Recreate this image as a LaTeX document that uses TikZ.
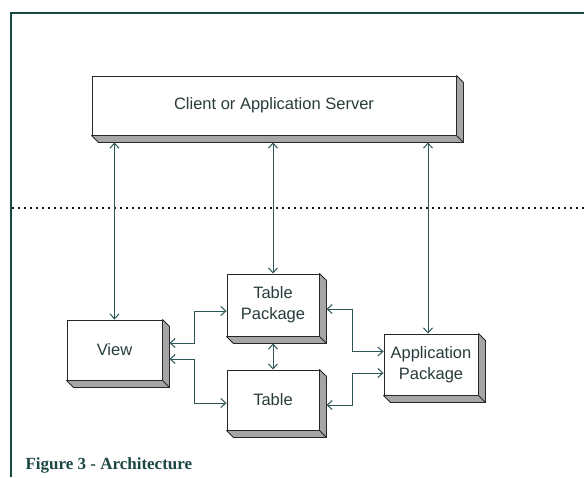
\documentclass[tikz,border=0pt]{standalone}
\usepackage{fontspec}
\setmainfont{Liberation Sans}
\newfontfamily\capfont{Liberation Serif}
\usetikzlibrary{arrows.meta, calc, positioning}
\definecolor{framecol}{RGB}{28,72,68}
\definecolor{linkcol}{RGB}{45,85,85}
\definecolor{textcol}{RGB}{40,60,60}
\tikzset{
  block/.style={draw=black!85, fill=white, line width=0.9pt, align=center,
    inner sep=0pt, text=textcol, font=\fontsize{16.5}{21}\selectfont},
  side/.style={draw=black!85, fill=black!35, line width=0.9pt, line join=bevel},
  link/.style={draw=linkcol, line width=0.9pt, <->}
}
\newcommand{\slab}[1]{%
  \filldraw[side] (#1.north east) -- ++(7pt,-7pt)
    -- ([shift={(7pt,-7pt)}]#1.south east)
    -- ([shift={(7pt,-7pt)}]#1.south west)
    -- (#1.south west) -- (#1.south east) -- cycle;
  \draw[side] (#1.south east) -- ++(7pt,-7pt);}

\begin{document}
\begin{tikzpicture}[x=1pt, y=-1pt,
    >={Straight Barb[length=5pt, width=9pt, line width=1pt]}]
  \useasboundingbox (0,0) rectangle (584,477);
  \fill[white] (0,0) rectangle (584,477);
  \draw[framecol, line width=2.5pt] (11,477) -- (11,13) -- (584,13);
  \draw[black!90, line width=2pt, dash pattern=on 2pt off 4pt] (12,208) -- (584,208);

  \node[block, minimum width=364pt, minimum height=59pt]
    (S) at (274,105.5) {Client or Application Server};
  \node[block, minimum width=95pt, minimum height=60pt]
    (V) at (114.5,350) {View};
  \node[block, minimum width=92pt, minimum height=62pt]
    (TP) at (273,305) {Table\\Package};
  \node[block, minimum width=92pt, minimum height=60pt]
    (T) at (273,400) {Table};
  \node[block, minimum width=94pt, minimum height=61pt]
    (AP) at (431,364.5) {Application\\Package};
  \slab{S} \slab{V} \slab{TP} \slab{T} \slab{AP}
  \coordinate (APtop) at ([xshift=-3pt]AP.north);

  \draw[link] ([yshift=-7pt]S.south -| V.north) -- (V.north);
  \draw[link] ([yshift=-7pt]S.south -| TP.north) -- (TP.north);
  \draw[link] ([yshift=-7pt]S.south -| APtop) -- (APtop);

  \draw[link] ([shift={(7pt,7pt)}]V.east) -- ++(25pt,0) |- ([yshift=-6pt]TP.west);
  \draw[link] ([shift={(7pt,-9pt)}]V.east) -- ++(25pt,0) |- ([yshift=-3pt]T.west);
  \draw[link] ([yshift=-7pt]TP.south) -- (T.north);
  \draw[link] ([shift={(7pt,-4pt)}]TP.east) -- ++(26pt,0) |- ([yshift=13pt]AP.west);
  \draw[link] ([shift={(7pt,-5pt)}]T.east) -- ++(26pt,0) |- ([yshift=-8.5pt]AP.west);

  \node[anchor=base west, text=framecol, font=\capfont\bfseries\fontsize{17}{20}\selectfont]
    (cap) at (22,469) {Figure 3 - Architecture};
\end{tikzpicture}
\end{document}
